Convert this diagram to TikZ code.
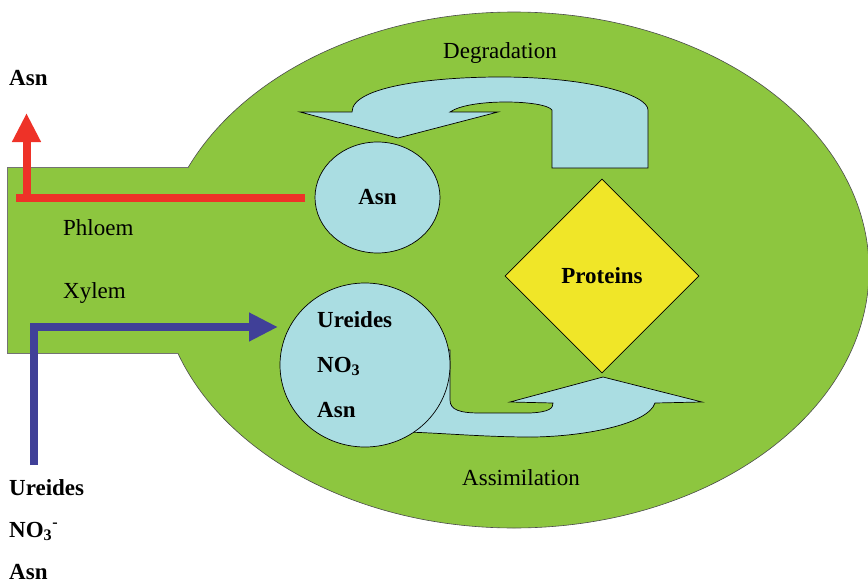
\documentclass[tikz,border=0pt]{standalone}
\usepackage{fontspec}
\setmainfont{Liberation Serif}
\usepackage{tikz}
\usetikzlibrary{arrows.meta}
\usetikzlibrary{shapes.geometric}
\definecolor{leafgreen}{RGB}{141,198,63}
\definecolor{poolblue}{RGB}{170,221,226}
\definecolor{protyellow}{RGB}{240,230,40}
\definecolor{phloemred}{RGB}{238,50,40}
\definecolor{xylemblue}{RGB}{64,64,152}
\tikzset{
    pool/.style={fill=poolblue, draw=black, line width=0.7pt},
    lbl/.style={anchor=base west, inner sep=0pt, font=\fontsize{23}{27}\selectfont},
    blbl/.style={anchor=base west, inner sep=0pt, font=\fontsize{23}{27}\selectfont\bfseries},
    flow/.style={line width=8pt, -{Triangle[length=29pt,width=27pt]}}
}

\begin{document}
\begin{tikzpicture}[x=1pt,y=-1pt]
\useasboundingbox (0,0) rectangle (868,584);
\fill[leafgreen] (514,270) ellipse [x radius=355, y radius=258];
\draw[black!70, line width=0.6pt] (514,270) ellipse [x radius=355, y radius=258];
\fill[leafgreen] (7,167) rectangle (300,353);
\draw[black!55, line width=0.7pt] (189,167) -- (7,167) -- (7,353) -- (178,353);
% degradation
\draw[pool] (398,138) -- (300,112) -- (352,112)
    .. controls (352,85) and (440,77) .. (500,77)
    .. controls (590,77) and (648,95) .. (648,110)
    -- (648,168) -- (552,168) -- (552,110)
    .. controls (545,100) and (470,98) .. (450,112)
    -- (498,112) -- cycle;
% assimilation
\draw[pool] (603,377) -- (702,402) -- (655,403)
    .. controls (648,425) and (580,437) .. (530,437)
    .. controls (480,437) and (430,432) .. (400,432)
    -- (400,350) -- (450,350) -- (450,400)
    .. controls (450,410) and (460,413) .. (480,413)
    -- (530,413) .. controls (550,412) and (553,408) .. (553,403)
    -- (510,402) -- cycle;
\node[pool, ellipse, minimum width=125, minimum height=111, inner sep=0pt, font=\fontsize{23}{27}\selectfont\bfseries] (asnpool) at (377.5,197.5) {Asn};
\node[pool, ellipse, minimum width=170, minimum height=164, inner sep=0pt] (xylpool) at (365,365) {};
\node[diamond, draw=black, line width=0.7pt, fill=protyellow, minimum width=194, minimum height=194, inner sep=0pt, font=\fontsize{23}{27}\selectfont\bfseries] (prot) at (602,276) {Proteins};
\foreach \x/\y/\p/\t in {9/85/asnout/Asn, 9/495/urein/Ureides, 9/537/nitin/{NO\textsubscript{3}\textsuperscript{-}}, 9/579/asnin/Asn, 317/327/urepool/Ureides, 317/372/nitpool/{NO\textsubscript{3}}, 317/417/asnxyl/Asn}{
    \node[blbl] (\p) at (\x,\y) {\t};
}
\foreach \x/\y/\p/\t in {443/58/degr/Degradation, 462/485/assim/Assimilation, 63/235/phl/Phloem, 63/298/xyl/Xylem}{
    \node[lbl] (\p) at (\x,\y) {\t};
}
\coordinate (phlstart) at (305,198);
\coordinate (phlend) at (16,198);
\coordinate (phlbend) at (26.5,202);
\coordinate (phltip) at (26.5,113);
\coordinate (xylfoot) at (34,465);
\coordinate (xyltip) at (278,327);
\draw[phloemred, line width=8pt] (phlstart) -- (phlend);
\draw[flow, phloemred] (phlbend) -- (phltip);
\draw[flow, xylemblue] (xylfoot) |- (xyltip);
\end{tikzpicture}
\end{document}
